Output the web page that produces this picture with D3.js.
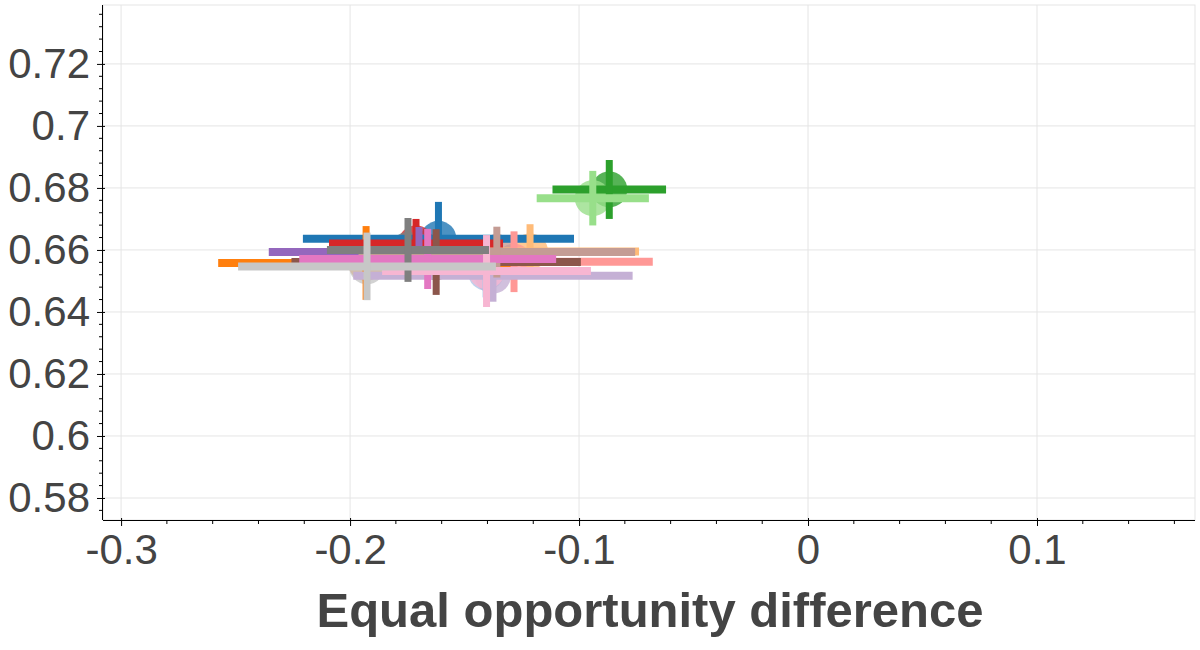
<!DOCTYPE html>
<html>
<head>
<meta charset="utf-8">
<script src="https://cdn.jsdelivr.net/npm/d3@7"></script>
<style>
  html, body { margin: 0; padding: 0; background: #fff; }
  svg { display: block; }
</style>
</head>
<body>
<div id="chart"></div>
<script>
// ---------- data ----------
const seriesColors = [
  "#1f77b4", "#aec7e8", "#ff7f0e", "#ffbb78", "#2ca02c", "#98df8a",
  "#d62728", "#ff9896", "#9467bd", "#c5b0d5", "#8c564b", "#c49c94",
  "#e377c2", "#f7b6d2", "#7f7f7f", "#c7c7c7"
];
const eqOppDiff = [
  -0.1614, -0.1406, -0.1930, -0.1214, -0.0868, -0.0940,
  -0.1712, -0.1284, -0.1699, -0.1376, -0.1624, -0.1359,
  -0.1661, -0.1404, -0.1747, -0.1926
];
const scoreVals = [
  0.6636, 0.6527, 0.6558, 0.6595, 0.6795, 0.6767,
  0.6621, 0.6562, 0.6593, 0.6517, 0.6561, 0.6593,
  0.6571, 0.6532, 0.6600, 0.6547
];
const eqOppErr = [
  0.0592, 0.0440, 0.0646, 0.0476, 0.0248, 0.0245,
  0.0380, 0.0606, 0.0656, 0.0610, 0.0632, 0.0604,
  0.0561, 0.0456, 0.0354, 0.0563
];
const scoreErr = [
  0.0119, 0.0080, 0.0119, 0.0088, 0.0095, 0.0088,
  0.0079, 0.0098, 0.0081, 0.0084, 0.0106, 0.0082,
  0.0097, 0.0116, 0.0103, 0.0109
];
const xTicks = [-0.3, -0.2, -0.1, 0, 0.1];
const yTicks = [0.58, 0.6, 0.62, 0.64, 0.66, 0.68, 0.7, 0.72];
const xLabel = "Equal opportunity difference";

// ---------- layout ----------
const W = 1200, H = 650;
const plot = { left: 103, right: 1195, top: 5, bottom: 520 };
const fontFam = "'Liberation Sans', Arial, Helvetica, sans-serif";
const textCol = "#444444";
const gridCol = "#e5e5e5";

const x = d3.scaleLinear().domain([-0.3079, 0.1690]).range([plot.left, plot.right]);
const y = d3.scaleLinear().domain([0.5729, 0.7390]).range([plot.bottom, plot.top]);

const svg = d3.select("#chart").append("svg").attr("width", W).attr("height", H);

// outline + grid
svg.append("rect")
  .attr("x", plot.left).attr("y", plot.top)
  .attr("width", plot.right - plot.left).attr("height", plot.bottom - plot.top)
  .attr("fill", "none").attr("stroke", gridCol).attr("stroke-width", 1);

const grid = svg.append("g");
grid.selectAll("line.gx").data(xTicks).enter().append("line")
  .attr("x1", d => x(d)).attr("x2", d => x(d))
  .attr("y1", plot.top).attr("y2", plot.bottom)
  .attr("stroke", gridCol).attr("stroke-width", 1);
grid.selectAll("line.gy").data(yTicks).enter().append("line")
  .attr("y1", d => y(d)).attr("y2", d => y(d))
  .attr("x1", plot.left).attr("x2", plot.right)
  .attr("stroke", gridCol).attr("stroke-width", 1);

// ---------- marks ----------
const idx = d3.range(seriesColors.length);
const marks = svg.append("g");

// circles sit behind every error bar
marks.selectAll("circle").data(idx).enter().append("circle")
  .attr("cx", i => x(eqOppDiff[i]))
  .attr("cy", i => y(scoreVals[i]))
  .attr("r", 18)
  .attr("fill", i => seriesColors[i])
  .attr("fill-opacity", 0.8);

idx.forEach(i => {
  const cx = eqOppDiff[i], cy = scoreVals[i], c = seriesColors[i];
  marks.append("line")
    .attr("x1", x(cx - eqOppErr[i])).attr("x2", x(cx + eqOppErr[i]))
    .attr("y1", y(cy)).attr("y2", y(cy))
    .attr("stroke", c).attr("stroke-width", 8);
  marks.append("line")
    .attr("x1", x(cx)).attr("x2", x(cx))
    .attr("y1", y(cy - scoreErr[i])).attr("y2", y(cy + scoreErr[i]))
    .attr("stroke", c).attr("stroke-width", 7);
});

// ---------- axes ----------
function fmt(v) { return v === 0 ? "0" : String(+v.toFixed(2)); }

function minorTicks(domain, step) {
  const out = [];
  const start = Math.ceil(domain[0] / step - 1e-9);
  const end = Math.floor(domain[1] / step + 1e-9);
  for (let k = start; k <= end; k++) out.push(+(k * step).toFixed(4));
  return out;
}

const xAxis = d3.axisBottom(x).tickValues(xTicks).tickFormat(fmt).tickSizeInner(6).tickSizeOuter(0).tickPadding(8);
const gx = svg.append("g").attr("transform", `translate(0,${plot.bottom})`).call(xAxis);
gx.select(".domain").attr("stroke", "#000").attr("d", `M${plot.left},0.5H${plot.right}`);
gx.selectAll(".tick line").attr("stroke", "#000").attr("y1", -2).attr("y2", 6);
gx.selectAll(".tick text").attr("fill", textCol).style("font-family", fontFam).style("font-size", "42px");

const gxm = svg.append("g").attr("transform", `translate(0,${plot.bottom})`);
gxm.selectAll("line").data(minorTicks(x.domain(), 0.02).filter(v => !xTicks.some(t => Math.abs(t - v) < 1e-6)))
  .enter().append("line")
  .attr("x1", d => x(d)).attr("x2", d => x(d))
  .attr("y1", 0).attr("y2", 4).attr("stroke", "#000");

const yAxis = d3.axisLeft(y).tickValues(yTicks).tickFormat(fmt).tickSizeInner(6).tickSizeOuter(0).tickPadding(7);
const gy = svg.append("g").attr("transform", `translate(${plot.left},0)`).call(yAxis);
gy.select(".domain").attr("stroke", "#000").attr("d", `M-0.5,${plot.top}V${plot.bottom}`);
gy.selectAll(".tick line").attr("stroke", "#000").attr("x1", 2).attr("x2", -6);
gy.selectAll(".tick text").attr("fill", textCol).style("font-family", fontFam).style("font-size", "42px");

const gym = svg.append("g").attr("transform", `translate(${plot.left},0)`);
gym.selectAll("line").data(minorTicks(y.domain(), 0.004).filter(v => !yTicks.some(t => Math.abs(t - v) < 1e-6)))
  .enter().append("line")
  .attr("y1", d => y(d)).attr("y2", d => y(d))
  .attr("x1", 0).attr("x2", -4).attr("stroke", "#000");

// axis title
svg.append("text")
  .attr("x", 650).attr("y", 627)
  .attr("text-anchor", "middle")
  .attr("fill", textCol)
  .style("font-family", fontFam).style("font-weight", "bold").style("font-size", "49px")
  .text(xLabel);
</script>
</body>
</html>
